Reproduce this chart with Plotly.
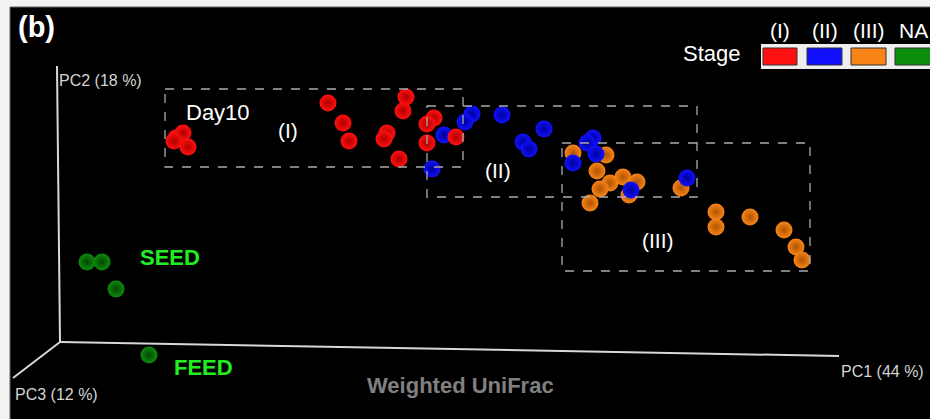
import plotly.graph_objects as go

# Projected ordination coordinates (screen-projected PC space)
stage1_x = [176, 183, 174, 188, 328, 343, 349, 406, 403, 387, 384, 399, 434, 427, 427, 456]
stage1_y = [138, 133, 141, 147, 103, 123, 141, 97, 111, 133, 139, 159, 118, 124, 143, 137]
stage2_x = [472, 465, 502, 444, 432, 544, 523, 529, 593, 587, 596, 573, 631, 687]
stage2_y = [114, 122, 115, 135, 169, 129, 142, 149, 138, 143, 154, 163, 190, 178]
stage3_x = [573, 606, 597, 610, 600, 623, 637, 629, 590, 681, 716, 716, 750, 784, 796, 802]
stage3_y = [153, 155, 171, 183, 189, 177, 182, 195, 203, 188, 212, 227, 217, 230, 247, 260]
na_x = [87, 102, 116, 149]
na_y = [262, 262, 289, 355]

stage_names = ["(I)", "(II)", "(III)", "NA"]
stage_colors = ["#ff1010", "#1010ff", "#f88418", "#0c8c0c"]
edge_colors = ["#b00000", "#00009a", "#b05400", "#044604"]

fig = go.Figure()

def spheres(x, y, i):
    fig.add_trace(go.Scatter(
        x=x, y=y, mode="markers", name=stage_names[i], showlegend=False,
        marker=dict(size=17, color=stage_colors[i], line=dict(width=0),
                    gradient=dict(type="radial", color=edge_colors[i])),
        hoverinfo="skip"))

spheres(stage3_x, stage3_y, 2)
spheres(stage2_x, stage2_y, 1)
spheres(stage1_x, stage1_y, 0)
spheres(na_x, na_y, 3)

shapes = []
# black panel
shapes.append(dict(type="rect", xref="x", yref="y", x0=10, x1=935, y0=7, y1=425,
                   fillcolor="black", line=dict(color="#666", width=1), layer="below"))
# axes of the 3D box
axis_col = "#d8d8d8"
for (x0, y0, x1, y1) in [(57, 66, 60, 342), (60, 342, 839, 356), (60, 342, 13, 378)]:
    shapes.append(dict(type="line", xref="x", yref="y", x0=x0, y0=y0, x1=x1, y1=y1,
                       line=dict(color=axis_col, width=2)))
# group boxes
for (x0, y0, x1, y1) in [(165, 89, 463, 167), (427, 106, 697, 197), (562, 143, 810, 271)]:
    shapes.append(dict(type="rect", xref="x", yref="y", x0=x0, y0=y0, x1=x1, y1=y1,
                       line=dict(color="#aaaaaa", width=1.3, dash="dash")))
# legend swatch strip
shapes.append(dict(type="rect", xref="x", yref="y", x0=761, x1=935, y0=44, y1=69,
                   fillcolor="#eeeeee", line=dict(width=0)))
sw = [(763, 797), (807, 842), (851, 886), (895, 931)]
for (a, b), c in zip(sw, stage_colors):
    shapes.append(dict(type="rect", xref="x", yref="y", x0=a, x1=b, y0=48, y1=65,
                       fillcolor=c, line=dict(color="#333", width=1)))

ann = []
def txt(x, y, s, size, color="white", bold=False, xanchor="center", family="Liberation Sans, Arial"):
    ann.append(dict(x=x, y=y, xref="x", yref="y", text=("<b>%s</b>" % s) if bold else s,
                    showarrow=False, xanchor=xanchor, yanchor="middle",
                    font=dict(size=size, color=color, family=family)))

txt(16, 27, "(b)", 29, bold=True, xanchor="left")
txt(712, 53, "Stage", 22)
for (a, b), n in zip(sw, stage_names):
    txt((a + b) / 2, 30, n, 21)
txt(218, 112, "Day10", 22)
txt(288, 130, "(I)", 21)
txt(498, 170, "(II)", 21)
txt(658, 240, "(III)", 21)
txt(138, 257, "SEED", 22, color="#22ee22", bold=True, xanchor="left")
txt(172, 367, "FEED", 22, color="#22ee22", bold=True, xanchor="left")
txt(460, 385, "Weighted UniFrac", 22, color="#808080", bold=True)
txt(57, 80, "PC2 (18 %)", 16, color="#d4d4d4", xanchor="left")
txt(13, 394, "PC3 (12 %)", 16, color="#d4d4d4", xanchor="left")
txt(839, 371, "PC1 (44 %)", 16, color="#d4d4d4", xanchor="left")

# axis units equal window pixels
fig.update_layout(
    width=930, height=419, margin=dict(l=0, r=0, t=0, b=0),
    paper_bgcolor="#f2f2f2", plot_bgcolor="#f2f2f2",
    xaxis=dict(range=[0, 930], visible=False, fixedrange=True),
    yaxis=dict(range=[419, 0], visible=False, fixedrange=True),
    shapes=shapes, annotations=ann, showlegend=False)

fig.write_html("out.html", config={"displayModeBar": False},
               post_script="document.body.style.margin='0';document.body.style.overflow='hidden';")
